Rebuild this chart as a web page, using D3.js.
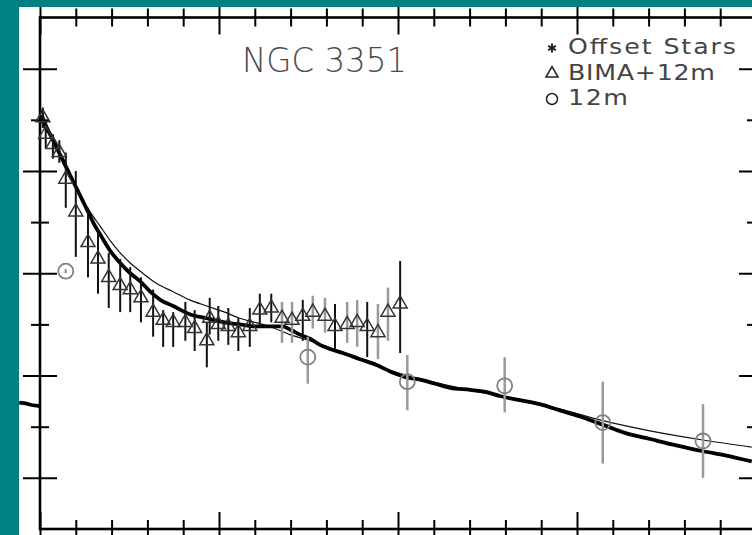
<!DOCTYPE html>
<html>
<head>
<meta charset="utf-8">
<script src="https://cdn.jsdelivr.net/npm/d3@7"></script>
<style>
  body { margin: 0; background: #008080; }
  svg { display: block; }
</style>
</head>
<body>
<svg id="chart" width="752" height="535"></svg>
<script>
// ─── Data (radius in arcsec, log surface density) ───────────────────────────

// Offset stars profile (thick curve)
const starR    = [0, 0.7, 1.4, 2.1, 2.8, 3.5, 4.2, 4.9, 5.6, 6.3, 7.0, 7.7, 8.4, 9.8, 11.2, 12.6, 14.0, 15.4, 16.8, 18.6, 20.9, 23.3, 25.8, 27.9, 30.0, 32.1, 33.8, 35.2, 36.3, 37.7, 39.1, 40.5, 42.3, 44.7, 47.1, 48.9, 51.3, 53.1, 55.2, 57.3, 60.1, 62.2, 64.2, 67.0, 69.8, 72.6, 75.4, 78.6, 81.7, 85.2, 88.7, 92.6, 95.7, 99.4];
const starLogS = [2.77, 2.72, 2.68, 2.63, 2.58, 2.53, 2.48, 2.43, 2.38, 2.33, 2.28, 2.23, 2.19, 2.11, 2.05, 2.00, 1.96, 1.91, 1.87, 1.84, 1.80, 1.78, 1.76, 1.75, 1.74, 1.74, 1.74, 1.72, 1.70, 1.68, 1.65, 1.63, 1.61, 1.58, 1.55, 1.52, 1.49, 1.48, 1.46, 1.44, 1.43, 1.42, 1.40, 1.38, 1.36, 1.33, 1.30, 1.26, 1.22, 1.19, 1.16, 1.13, 1.11, 1.08];

// Smooth fit (thin curve)
const fitR    = [0, 1.4, 2.8, 4.2, 5.6, 7.0, 8.4, 9.8, 11.2, 12.6, 14.0, 16.3, 18.6, 20.9, 23.3, 25.8, 27.9, 30.0, 32.1, 34.9, 37.7, 43.3, 50.3, 57.3, 64.2, 71.2, 78.6, 85.2, 92.6, 99.4];
const fitLogS = [2.81, 2.69, 2.57, 2.47, 2.38, 2.30, 2.23, 2.16, 2.10, 2.05, 2.01, 1.95, 1.91, 1.87, 1.84, 1.81, 1.78, 1.76, 1.74, 1.70, 1.67, 1.60, 1.51, 1.45, 1.40, 1.35, 1.28, 1.23, 1.185, 1.15];

// Tail of the neighbouring panel's curve poking in from the left
const tailR    = [-2.9, -2.0, -1.2, 0];
const tailLogS = [1.368, 1.364, 1.356, 1.350];

// BIMA+12m (triangles)
const bimaR    = [0.4, 0.8, 1.8, 2.7, 3.6, 5.0, 6.7, 8.1, 9.6, 11.2, 12.6, 14.1, 15.8, 17.2, 18.6, 20.3, 21.6, 23.3, 23.7, 24.9, 26.3, 27.7, 29.3, 30.7, 32.3, 33.8, 35.2, 36.7, 38.1, 39.8, 41.2, 42.9, 44.3, 45.7, 47.2, 48.6, 50.3];
const bimaLogS = [2.76, 2.68, 2.63, 2.59, 2.46, 2.30, 2.15, 2.07, 1.98, 1.94, 1.92, 1.88, 1.81, 1.77, 1.76, 1.76, 1.73, 1.67, 1.78, 1.75, 1.74, 1.71, 1.74, 1.82, 1.83, 1.78, 1.77, 1.79, 1.81, 1.79, 1.74, 1.75, 1.76, 1.74, 1.71, 1.81, 1.85];
const bimaHi   = [2.81, 2.74, 2.68, 2.65, 2.59, 2.50, 2.32, 2.22, 2.10, 2.07, 2.03, 1.98, 1.92, 1.82, 1.81, 1.86, 1.82, 1.76, 1.88, 1.84, 1.83, 1.78, 1.83, 1.90, 1.90, 1.86, 1.86, 1.87, 1.89, 1.88, 1.85, 1.86, 1.87, 1.86, 1.85, 1.93, 2.06];
const bimaLo   = [2.71, 2.61, 2.56, 2.54, 2.32, 2.08, 1.98, 1.90, 1.83, 1.81, 1.81, 1.76, 1.69, 1.64, 1.64, 1.67, 1.62, 1.54, 1.70, 1.67, 1.65, 1.62, 1.64, 1.74, 1.76, 1.66, 1.66, 1.67, 1.73, 1.71, 1.63, 1.66, 1.64, 1.59, 1.58, 1.67, 1.61];
// points whose error bars are drawn grey
const bimaLowSN = [25, 26, 28, 29, 31, 32, 34, 35];

// 12m only (circles)
const sdR    = [3.6, 37.4, 51.3, 64.9, 78.6, 92.6];
const sdLogS = [2.01, 1.59, 1.47, 1.45, 1.27, 1.18];
const sdHi   = [2.02, 1.69, 1.60, 1.59, 1.47, 1.36];
const sdLo   = [2.00, 1.46, 1.33, 1.32, 1.07, 1.00];

const title = 'NGC 3351';
const legendLabels = ['Offset Stars', 'BIMA+12m', '12m'];

// ─── Layout ─────────────────────────────────────────────────────────────────
const W = 752, H = 535;
const X0 = 40, X1 = 756, Y0 = 17.5, Y1 = 529;
const FONT = '"DejaVu Sans", sans-serif';

const x = d3.scaleLinear().domain([0, 100]).range([X0, X1]);
const y = d3.scaleLinear().domain([0.75, 3.25]).range([Y1, Y0]);

const xMajor = d3.range(0, 101, 25);
const xMinor = d3.range(0, 101, 5).filter(v => v % 25 !== 0);
const yMajor = [1.0, 1.5, 2.0, 2.5, 3.0];
const yMinor = [1.25, 1.75, 2.25, 2.75];

const svg = d3.select('#chart');

svg.append('clipPath').attr('id', 'panel')
  .append('rect').attr('x', 19).attr('y', 7).attr('width', W - 19).attr('height', H - 7);

svg.append('rect').attr('width', W).attr('height', H).attr('fill', '#008080');
const g = svg.append('g').attr('clip-path', 'url(#panel)');
g.append('rect').attr('x', 19).attr('y', 7).attr('width', W - 19).attr('height', H - 7).attr('fill', '#fff');

// ── Axes: ticks straddle the frame ──────────────────────────────────────────
function ticks(axisFn, scale, values, size, tx, ty) {
  g.append('g')
    .attr('transform', `translate(${tx},${ty})`)
    .call(axisFn(scale).tickValues(values).tickSize(size).tickFormat(''))
    .call(a => a.select('.domain').remove())
    .call(a => a.selectAll('.tick line').attr('stroke', '#000').attr('stroke-width', 2));
}
ticks(d3.axisBottom, x, xMinor, 18, 0, Y0 - 9);
ticks(d3.axisBottom, x, xMajor, 34, 0, Y0 - 17);
ticks(d3.axisBottom, x, xMinor, 18, 0, Y1 - 9);
ticks(d3.axisBottom, x, xMajor, 34, 0, Y1 - 17);
ticks(d3.axisRight, y, yMinor, 18, X0 - 9, 0);
ticks(d3.axisRight, y, yMajor, 34, X0 - 17, 0);
ticks(d3.axisRight, y, yMinor, 18, X1 - 9, 0);
ticks(d3.axisRight, y, yMajor, 34, X1 - 17, 0);

g.append('rect')
  .attr('x', X0).attr('y', Y0).attr('width', X1 - X0).attr('height', Y1 - Y0)
  .attr('fill', 'none').attr('stroke', '#000').attr('stroke-width', 2.6);

// ── Curves ──────────────────────────────────────────────────────────────────
const line = d3.line().x(d => x(d[0])).y(d => y(d[1])).curve(d3.curveMonotoneX);
const zip = (a, b) => a.map((v, i) => [v, b[i]]);

g.append('path').datum(zip(fitR, fitLogS))
  .attr('d', line).attr('fill', 'none').attr('stroke', '#111').attr('stroke-width', 1.2);

g.append('path').datum(zip(starR, starLogS))
  .attr('d', line).attr('fill', 'none').attr('stroke', '#000').attr('stroke-width', 3.8);

g.append('path').datum(zip(tailR, tailLogS))
  .attr('d', d3.line().x(d => x(d[0])).y(d => y(d[1])))
  .attr('fill', 'none').attr('stroke', '#000').attr('stroke-width', 3.8);

// ── Error bars ──────────────────────────────────────────────────────────────
const bima = bimaR.map((r, i) => ({ r, v: bimaLogS[i], hi: bimaHi[i], lo: bimaLo[i], grey: bimaLowSN.includes(i) }));
const sd = sdR.map((r, i) => ({ r, v: sdLogS[i], hi: sdHi[i], lo: sdLo[i] }));

g.append('g').selectAll('line').data(sd).join('line')
  .attr('x1', d => x(d.r)).attr('x2', d => x(d.r))
  .attr('y1', d => y(d.hi)).attr('y2', d => y(d.lo))
  .attr('stroke', '#9a9a9a').attr('stroke-width', 2.5);

g.append('g').selectAll('line').data(bima).join('line')
  .attr('x1', d => x(d.r)).attr('x2', d => x(d.r))
  .attr('y1', d => y(d.hi)).attr('y2', d => y(d.lo))
  .attr('stroke', d => d.grey ? '#9a9a9a' : '#111')
  .attr('stroke-width', d => d.grey ? 2.5 : 2);

// ── Markers ─────────────────────────────────────────────────────────────────
const tri = d3.symbol().type(d3.symbolTriangle).size(85);

g.append('g').selectAll('path').data(bima).join('path')
  .attr('transform', d => `translate(${x(d.r)},${y(d.v)})`)
  .attr('d', tri)
  .attr('fill', 'none').attr('stroke', '#333').attr('stroke-width', 1.5);

g.append('g').selectAll('circle').data(sd).join('circle')
  .attr('cx', d => x(d.r)).attr('cy', d => y(d.v)).attr('r', 7.5)
  .attr('fill', 'none').attr('stroke', '#808080').attr('stroke-width', 1.8);

// ── Title & legend ──────────────────────────────────────────────────────────
g.append('text')
  .attr('x', 242).attr('y', 72)
  .attr('textLength', 165).attr('lengthAdjust', 'spacingAndGlyphs')
  .style('font-family', FONT)
  .style('font-weight', 200)
  .style('font-size', '34px')
  .style('fill', '#4a4a4a')
  .text(title);

const legendSym = [
  d3.symbol().type(d3.symbolAsterisk).size(55),
  d3.symbol().type(d3.symbolTriangle).size(62),
  null
];
const legendWidth = [168, 147, 60];
const stretch = 1.15;
const leg = g.append('g');
legendLabels.forEach((label, i) => {
  const cy = 48 + i * 25.5;
  if (legendSym[i]) {
    leg.append('path')
      .attr('transform', `translate(552,${cy})`)
      .attr('d', legendSym[i])
      .attr('fill', 'none').attr('stroke', '#222').attr('stroke-width', i === 0 ? 2 : 1.6);
  } else {
    leg.append('circle').attr('cx', 552).attr('cy', cy).attr('r', 5.5)
      .attr('fill', 'none').attr('stroke', '#222').attr('stroke-width', 1.5);
  }
  leg.append('text')
    .attr('transform', `translate(568,${54 + i * 25.5}) scale(${stretch},1)`)
    .attr('textLength', legendWidth[i] / stretch).attr('lengthAdjust', 'spacing')
    .style('font-family', FONT)
    .style('font-size', '22px')
    .style('fill', '#444')
    .text(label);
});
</script>
</body>
</html>
